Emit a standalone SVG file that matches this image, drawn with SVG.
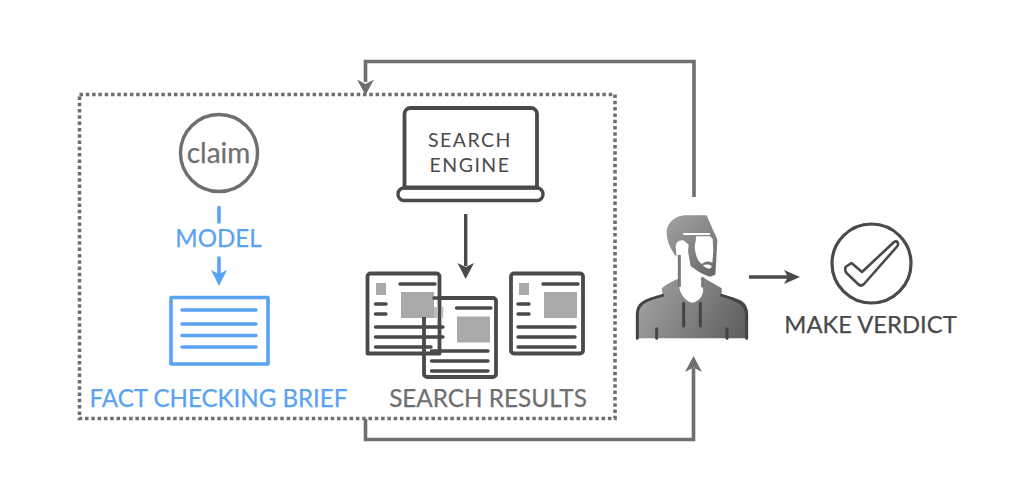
<svg xmlns="http://www.w3.org/2000/svg" width="1014" height="490" viewBox="0 0 1014 490">
<style>
text{font-family:Lato,"Open Sans","Liberation Sans",sans-serif;stroke-width:.25;paint-order:stroke}
.lbl{font-size:24.1px;text-anchor:middle}
.blue{fill:#5aa2f2;stroke:#5aa2f2}
.gr{fill:#6f6f6f;stroke:#6f6f6f}
.dt{fill:#4a4a4a;stroke:#4a4a4a}
.se{fill:#4a4a4a;font-size:19.500px;letter-spacing:1.500px;text-anchor:middle}
.bl{stroke:#5aa2f2;stroke-width:3.6;fill:none;stroke-linecap:round;stroke-linejoin:round}
.dk{stroke:#4a4a4a;stroke-width:3.4;fill:none;stroke-linejoin:round}
.doc{fill:#fff;stroke:#4a4a4a;stroke-width:3.8;stroke-linejoin:round}
.ln{stroke:#4a4a4a;stroke-width:3.4;stroke-linecap:round;fill:none}
.im{fill:#a9a9a9}
.conn{stroke:#6f6f6f;stroke-width:3.6;fill:none}
</style>
<defs>
<linearGradient id="gb" gradientUnits="userSpaceOnUse" x1="50" y1="270" x2="383" y2="445"><stop offset="0" stop-color="#a6a6a6"/><stop offset="1" stop-color="#5c5c5c"/></linearGradient>
<linearGradient id="gh" gradientUnits="userSpaceOnUse" x1="20" y1="22" x2="172" y2="206"><stop offset="0" stop-color="#a4a4a4"/><stop offset="1" stop-color="#666"/></linearGradient>
</defs>
<rect width="1014" height="490" fill="#fff"/>
<g id="connectors">
<rect x="79.500" y="94.500" width="535.500" height="324" fill="none" stroke="#6f6f6f" stroke-width="3.600" stroke-dasharray="3.500 2.800"/>
<path class="conn" d="M694 197V61.500H365.500V82"/>
<path d="M357 79.500L365.500 84L374 79.500L365.500 95Z" fill="#6f6f6f"/>
<path class="conn" d="M365.500 419V439.500H693.500V368"/>
<path d="M685 372L693.500 367.500L702 372L693.500 356Z" fill="#6f6f6f"/>
<path class="bl" d="M219 207.500V222" stroke-linecap="butt"/>
<path class="bl" d="M219 258V273" stroke-linecap="butt"/>
<path d="M211 270L219 274L227 270L219 286Z" fill="#5aa2f2"/>
<path class="dk" d="M465.700 214V266"/>
<path d="M457.500 263L465.700 267L474 263L465.700 279Z" fill="#4a4a4a"/>
<path class="dk" d="M749 277H790"/>
<path d="M784 270L800 277L784 284L788 277Z" fill="#4a4a4a"/>
</g>
<g id="claim">
<circle cx="219" cy="153" r="38.500" fill="none" stroke="#6f6f6f" stroke-width="3.400"/>
<text class="gr" x="218.500" y="162.500" font-size="28" text-anchor="middle">claim</text>
</g>
<g id="model"><text class="lbl blue" x="218.500" y="246.500">MODEL</text></g>
<g id="brief">
<rect class="bl" x="171" y="297.500" width="97" height="66.500"/>
<path class="bl" d="M182 310H256M182 324H256M182 335.500H256M182 347H256"/>
<text class="lbl blue" x="218.500" y="406.500">FACT CHECKING BRIEF</text>
</g>
<g id="search-engine">
<path d="M404.500 188V114a6 6 0 0 1 6-6H531a6 6 0 0 1 6 6V188" fill="none" stroke="#4a4a4a" stroke-width="3.800"/>
<path d="M404 187.500H537" stroke="#4a4a4a" stroke-width="3.800"/>
<rect x="398" y="188" width="145" height="12.500" rx="6" fill="none" stroke="#4a4a4a" stroke-width="3.400"/>
<text class="se" x="470" y="147">SEARCH</text>
<text class="se" x="470" y="172">ENGINE</text>
</g>
<g id="results">
<rect class="doc" x="424" y="298" width="72" height="79" rx="3"/>
<path class="ln" d="M456.500 308H491M431.500 361H488M431.500 371H488"/>
<rect class="im" x="457" y="316.500" width="33" height="26"/>
<path d="M367.500 351V276.500a3 3 0 0 1 3-3H436.500a3 3 0 0 1 3 3V353.500H367.500Z" fill="#fff" stroke="#4a4a4a" stroke-width="3.800" stroke-linejoin="round"/>
<rect class="im" x="376" y="283" width="10" height="12"/>
<rect class="im" x="401" y="292" width="33" height="26"/>
<rect x="434" y="307" width="3.500" height="11" fill="#bdbdbd"/>
<rect x="441.300" y="307" width="2" height="11" fill="#bdbdbd"/>
<path class="ln" d="M400 284H435M375.500 304H386M375.500 314H386M375.500 327H443M375.500 337H443M375.500 347H431M434 298H445M431.500 351H488"/>
<path d="M424 317V354" stroke="#4a4a4a" stroke-width="3.800"/>
<rect class="doc" x="511" y="273.500" width="72" height="80" rx="3"/>
<rect class="im" x="519" y="283" width="10" height="12"/>
<path class="ln" d="M543 284H578M518 304H529M518 314H529M518 327H575M518 337H575M518 347H575"/>
<rect class="im" x="544" y="292" width="33" height="26"/>
<text class="lbl gr" x="488" y="407" style="font-size:24.300px">SEARCH RESULTS</text>
</g>
<g id="person">
<g transform="translate(660 208) scale(.33333)">
<path fill="url(#gh)" d="M20 75C20 40 50 22 80 22H140L160 68C168 85 172 90 172 100L166 200L150 206C125 200 108 185 92 175L84 130L86 110L70 97C55 95 47 105 47 118L50 147C35 130 20 100 20 75Z"/>
<path fill="#fff" d="M70 75H150V81H70ZM108 85H150L158 92L160 130L157 165C145 158 135 160 125 168C112 160 105 135 104 115L107 100Z"/>
<path fill="#fff" d="M128 172C140 168 150 170 156 175L150 182C140 182 135 178 128 172Z"/>
</g>
<g transform="translate(620 190) scale(.33333)">
<path fill="url(#gb)" d="M50 445V370C50 340 70 330 128 315L125 295C140 283 160 272 178 265V292C178 305 195 335 215 338C238 338 255 310 248 292V262L305 295V313L355 328C375 335 383 350 383 370V445Z"/>
<path d="M178 195V290M248 262V292" stroke="#777" stroke-width="9" fill="none"/>
<path d="M52 445V372C52 340 75 330 128 316M380 445V372C380 342 355 330 305 316" stroke="#444" stroke-width="9" fill="none" stroke-linecap="round"/>
<path d="M191 340V408M241 340V408M110 416V445M321 416V445" stroke="#444" stroke-width="9" stroke-linecap="round" fill="none"/>
</g>
</g>
<g id="verdict">
<circle cx="871.500" cy="263.500" r="39.500" fill="none" stroke="#4a4a4a" stroke-width="3.200"/>
<path d="M845.500 267L851.500 263L862 272L894 242C897 240 899 243 897.500 246L864 284C862 286 860 286 858 284L846.500 273C845 271 845 269 845.500 267Z" fill="none" stroke="#4a4a4a" stroke-width="2.600" stroke-linejoin="round"/>
<text class="lbl dt" x="870.500" y="333" style="font-size:23.800px">MAKE VERDICT</text>
</g>
</svg>
